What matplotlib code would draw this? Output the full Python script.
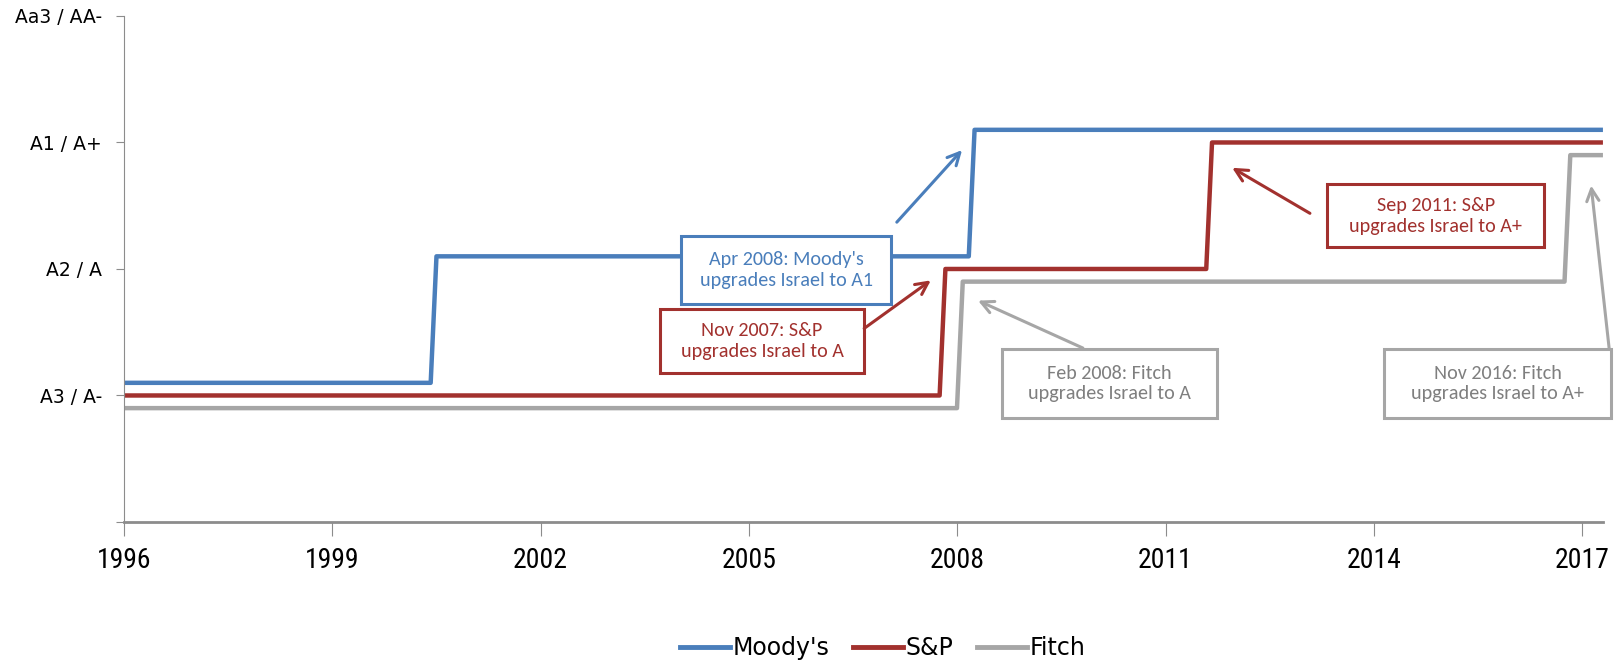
import numpy as np
import matplotlib.pyplot as plt
from matplotlib.patches import Rectangle
from matplotlib.lines import Line2D

# rating scale: 1 = A3 / A-, 2 = A2 / A, 3 = A1 / A+, 4 = Aa3 / AA-
rating_labels = ["", "A3 / A-", "A2 / A", "A1 / A+", "Aa3 / AA-"]
year_ticks = [1996, 1999, 2002, 2005, 2008, 2011, 2014, 2017]

# dates (fractional years) where each agency's rating changes
moodys_dates = [1996.0, 2000.5, 2008.25]
moodys_rating = [1, 2, 3]
sp_dates = [1996.0, 2007.83, 2011.67]
sp_rating = [1, 2, 3]
fitch_dates = [1996.0, 2008.08, 2016.83]
fitch_rating = [1, 2, 3]
last_date = 2017.3

blue = "#4A7EBB"
red = "#A2312E"
gray = "#A6A6A6"


def path(dates, ratings, shift):
    xs, ys = [dates[0]], [ratings[0] + shift]
    for i in range(1, len(dates)):
        xs += [dates[i] - 1 / 12, dates[i]]
        ys += [ratings[i - 1] + shift, ratings[i] + shift]
    xs.append(last_date)
    ys.append(ratings[-1] + shift)
    return xs, ys


fig = plt.figure(figsize=(16.17, 6.63), dpi=100)
ax = fig.add_axes([0.0767, 0.2127, 0.9146, 0.7632])

series = [("Moody's", moodys_dates, moodys_rating, blue, 0.1),
          ("S&P", sp_dates, sp_rating, red, 0.0),
          ("Fitch", fitch_dates, fitch_rating, gray, -0.1)]
for name, d, r, c, s in series:
    x, y = path(d, r, s)
    ax.plot(x, y, color=c, lw=3.2, label=name, solid_capstyle="butt")

ax.set_xlim(1996, last_date)
ax.set_ylim(0, 4)
ax.set_xticks(year_ticks)
ax.set_xticklabels([str(t) for t in year_ticks], family="Roboto Condensed",
                   fontsize=20)
ax.set_yticks(range(5))
ax.set_yticklabels(rating_labels, fontsize=13.5, family="DejaVu Sans")
for sp in ["top", "right"]:
    ax.spines[sp].set_visible(False)
ax.spines["left"].set_color("#8C8C8C")
ax.spines["bottom"].set_color("#8C8C8C")
ax.spines["bottom"].set_linewidth(2)
ax.tick_params(axis="y", length=6, color="#8C8C8C", pad=10)
ax.tick_params(axis="x", length=10, color="#8C8C8C", pad=8)

# annotation boxes: text, box x0, x1, y0, y1, arrow tail, arrow head, colour, text colour
notes = [
    ("Apr 2008: Moody's\nupgrades Israel to A1", 2004.02, 2007.05, 1.72, 2.26,
     (2007.13, 2.37), (2008.07, 2.94), blue, blue),
    ("Nov 2007: S&P\nupgrades Israel to A", 2003.72, 2006.66, 1.18, 1.68,
     (2006.66, 1.53), (2007.62, 1.91), red, red),
    ("Sep 2011: S&P\nupgrades Israel to A+", 2013.33, 2016.45, 2.17, 2.67,
     (2013.08, 2.44), (2011.96, 2.80), red, red),
    ("Feb 2008: Fitch\nupgrades Israel to A", 2008.65, 2011.74, 0.82, 1.37,
     (2009.81, 1.375), (2008.30, 1.75), gray, "#7F7F7F"),
    ("Nov 2016: Fitch\nupgrades Israel to A+", 2014.15, 2017.42, 0.82, 1.37,
     (2017.39, 1.37), (2017.13, 2.66), gray, "#7F7F7F"),
]
for txt, x0, x1, y0, y1, tail, head, c, tc in notes:
    ax.add_patch(Rectangle((x0, y0), x1 - x0, y1 - y0, fill=True, facecolor="white",
                           edgecolor=c, lw=2.2, clip_on=False, zorder=4))
    ax.text((x0 + x1) / 2, (y0 + y1) / 2, txt, ha="center", va="center", color=tc,
            fontsize=14.5, family="Carlito", linespacing=1.25, zorder=5)
    ax.annotate("", xy=head, xytext=tail,
                arrowprops=dict(arrowstyle="->", color=c, lw=2.2,
                                mutation_scale=22, shrinkA=0, shrinkB=0),
                annotation_clip=False, zorder=5)

handles = [Line2D([], [], color=c, lw=3.5) for _, _, _, c, _ in series]
fig.legend(handles, [n for n, *_ in series], loc="center",
           bbox_to_anchor=(0.546, 0.022), ncol=3, frameon=False,
           prop={"family": "DejaVu Sans", "size": 17},
           handlelength=2.1, handletextpad=0.12, columnspacing=1.0)

fig.savefig("out.png", dpi=100)
